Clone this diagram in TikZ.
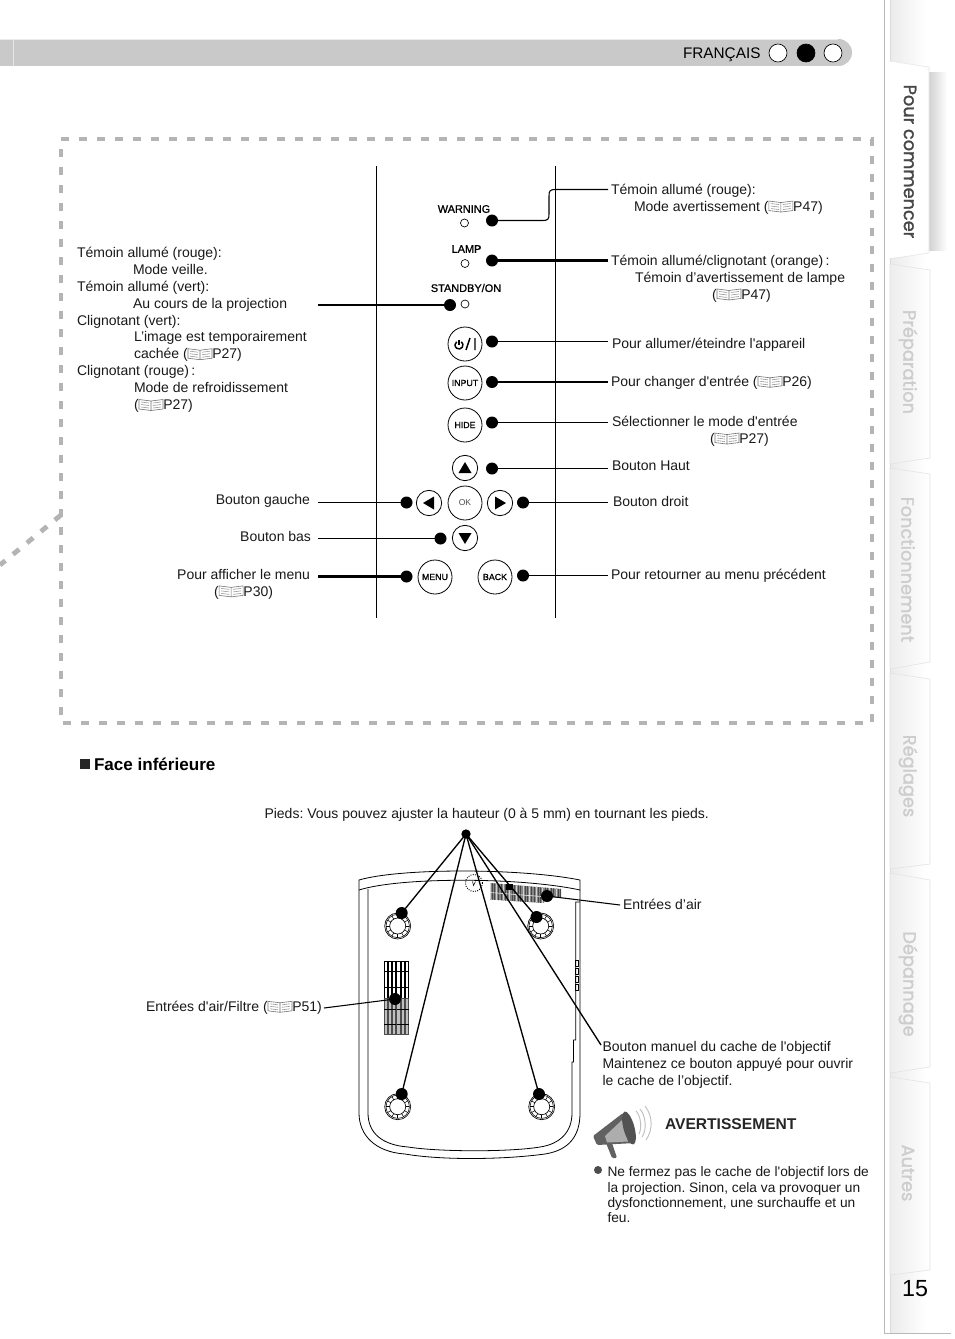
\documentclass[tikz,border=0pt]{standalone}
\usepackage{fontspec}
\setmainfont{Liberation Sans}[Ligatures=TeXOff]
\newfontfamily\fb[FakeBold=1]{Liberation Sans}
\newfontfamily\tabfont[FakeBold=1.6]{Poppins}
\usetikzlibrary{shadings,calc}
\definecolor{bargray}{HTML}{C9C9C9}
\definecolor{dashgray}{HTML}{B4B4B4}
\definecolor{tabgray}{HTML}{CDCDCD}
\definecolor{tabline}{HTML}{E2E2E2}
\newcommand{\bk}{\tikz[baseline=-8.4pt,x=0.75pt,y=-0.75pt,line width=0.45pt]{%
\draw[black!55] (0,1) -- (12,2.5) -- (24,1) -- (24,10.5) -- (12,12) -- (0,10.5) -- cycle (12,2.5) -- (12,12);
\draw[black!40] (2,3.5)--(10,4.5) (2,6)--(10,7) (2,8.5)--(10,9.5) (14,4.5)--(22,3.5) (14,7)--(22,6) (14,9.5)--(22,8.5);}}
\tikzset{
 x=0.75pt,y=-0.75pt,
 every node/.style={inner sep=0pt,outer sep=0pt},
 txt/.style={anchor=north west,align=left,yshift=-2.25pt,font=\fontsize{10.5pt}{12.7pt}\selectfont,text=black!90},
 dot/.style={circle,fill=black,minimum size=9pt},
 smalldot/.style={circle,fill=black,minimum size=7pt},
 btn/.style={circle,draw=black,line width=0.6pt,fill=white,minimum size=25.5pt,font=\fb\fontsize{6.6pt}{8pt}\selectfont},
 arrowbtn/.style={circle,draw=black,line width=0.6pt,fill=white,minimum size=19pt},
 led/.style={circle,draw=black,line width=0.5pt,fill=white,minimum size=6pt},
 ledlabel/.style={font=\fb\fontsize{8.2pt}{9pt}\selectfont},
 thinline/.style={line width=0.8pt},
 thickline/.style={line width=1.6pt},
 panel/.style={line width=0.8pt},
 dashborder/.style={draw=dashgray,line width=3.6pt,dash pattern=on 6pt off 7.5pt},
 sidetab/.style={left color=black!7,right color=white,draw=tabline,line width=0.4pt},
 tablabel/.style={rotate=-90,font=\tabfont\fontsize{13.3pt}{14pt}\selectfont,text=tabgray},
 body/.style={line width=0.6pt,draw=black},
 lang/.style={circle,draw=black,line width=0.5pt,fill=white,minimum size=13.5pt},
}
\begin{document}
\frenchspacing
\begin{tikzpicture}
\useasboundingbox (0,0) rectangle (954,1339);
\fill[white] (0,0) rectangle (954,1339);
% side strip
\shade[left color=black!8,right color=white] (890,0) rectangle (925,1333);
\draw[black!28,line width=0.7pt] (884,0) -- (884,1333) -- (951,1333);
\draw[black!14,line width=0.5pt] (890,0) -- (890,1333);
% tabs
\path[sidetab] (890,264) -- (930,270) -- (930,458) -- (890,464) -- cycle;
\path[sidetab] (890,468) -- (930,474) -- (930,662) -- (890,669) -- cycle;
\path[sidetab] (890,673) -- (930,679) -- (930,864) -- (890,869) -- cycle;
\path[sidetab] (890,873) -- (930,880) -- (930,1067) -- (890,1073) -- cycle;
\path[sidetab] (890,1077) -- (930,1083) -- (930,1270) -- (890,1275) -- cycle;
\shade[left color=black!18,right color=white] (929,72) rectangle (947,250);
\fill[white] (885,60) -- (929,67) -- (929,253) -- (885,259) -- cycle;
\draw[black!10,line width=0.4pt] (889,61) -- (929,67) -- (929,253) -- (889,259);
\node[tablabel,text=black!72] (t1) at (910,161.5) {Pour commencer};
\node[tablabel] (t2) at (908,362) {Préparation};
\node[tablabel] (t3) at (908,569.5) {Fonctionnement};
\node[tablabel] (t4) at (908,776) {Réglages};
\node[tablabel] (t5) at (908,984) {Dépannage};
\node[tablabel] (t6) at (908,1173) {Autres};
\node[anchor=center,font=\fontsize{17.5pt}{20pt}\selectfont] (pg) at (915,1289) {15};
% header
\fill[bargray] (0,39) rectangle (838.5,66);
\fill[bargray] (838.5,52.5) circle[radius=13.5];
\fill[black!10] (12.5,39) rectangle (14,66);
\draw[black!8,line width=0.5pt] (0,39) -- (838,39);
\node[anchor=west,font=\fontsize{11.5pt}{12pt}\selectfont] (fr) at (683,55) {FRANÇAIS};
\node[lang] (c1) at (778,53) {};
\node[lang,fill=black] (c2) at (806,53) {};
\node[lang] (c3) at (833,53) {};
% dashed frame
\draw[dashborder] (61,139) -- (872,139) -- (872,723) -- (61,723) -- cycle;
\draw[dashborder] (61,515) -- (0,565);
% panel rules
\coordinate (p1a) at (376.5,166); \coordinate (p1b) at (376.5,618);
\coordinate (p2a) at (555.5,166); \coordinate (p2b) at (555.5,618);
\draw[panel] (p1a) -- (p1b);
\draw[panel] (p2a) -- (p2b);
% leds
\node[ledlabel] (lw) at (464,209) {WARNING};
\node[ledlabel] (ll) at (466.5,249) {LAMP};
\node[ledlabel] (ls) at (466,288) {STANDBY/ON};
\node[led] (led1) at (464.5,223) {};
\node[led] (led2) at (465,263.5) {};
\node[led] (led3) at (465,304) {};
% buttons
\node[btn] (bp) at (465,344) {};
\draw[line width=1.1pt] ($(bp)+(-6,1)$) ++(-55:4) arc[start angle=-55,end angle=235,radius=4];
\draw[line width=1.1pt] ($(bp)+(-6,-4.5)$) -- ($(bp)+(-6,0.5)$);
\draw[line width=1.1pt] ($(bp)+(1,6)$) -- ($(bp)+(5,-6)$) ($(bp)+(10,-6)$) -- ($(bp)+(10,6)$);
\node[btn] (bi) at (465,383) {INPUT};
\node[btn] (bh) at (465,425) {HIDE};
\node[arrowbtn] (bu) at (465,468) {};
\node[arrowbtn] (bl) at (429,503) {};
\node[btn,font=\fontsize{6.4pt}{7pt}\selectfont,text=black!70] (bo) at (465,503) {OK};
\node[arrowbtn] (br) at (500,503) {};
\node[arrowbtn] (bd) at (465,538) {};
\node[btn] (bm) at (435,577) {MENU};
\node[btn] (bb) at (495,577) {BACK};
\fill ($(bu)+(0,-6)$) -- ($(bu)+(6.5,5)$) -- ($(bu)+(-6.5,5)$) -- cycle;
\fill ($(bd)+(0,6)$) -- ($(bd)+(6.5,-5)$) -- ($(bd)+(-6.5,-5)$) -- cycle;
\fill ($(bl)+(-6,0)$) -- ($(bl)+(5,-6.5)$) -- ($(bl)+(5,6.5)$) -- cycle;
\fill ($(br)+(6,0)$) -- ($(br)+(-5,-6.5)$) -- ($(br)+(-5,6.5)$) -- cycle;
% dots
\node[dot] (d1) at (492,220.5) {};
\node[dot] (d2) at (492,260.5) {};
\node[dot] (d3) at (450,305) {};
\node[dot] (d4) at (492,341.5) {};
\node[dot] (d5) at (492,382) {};
\node[dot] (d6) at (492,422.5) {};
\node[dot] (d7) at (492,468.5) {};
\node[dot] (d8) at (523,502.5) {};
\node[dot] (d9) at (406.5,502.5) {};
\node[dot] (d10) at (440.5,538.5) {};
\node[dot] (d11) at (406.5,576.5) {};
\node[dot] (d12) at (523,575.5) {};
% connector ends
\coordinate (e1) at (608,189.5);
\coordinate (e2) at (608,260.5);
\coordinate (e3) at (318,305);
\coordinate (e4) at (608,341.5);
\coordinate (e5) at (608,382);
\coordinate (e6) at (608,422.5);
\coordinate (e7) at (608,468.5);
\coordinate (e8) at (608,502.5);
\coordinate (e9) at (318,502.5);
\coordinate (e10) at (318,538.5);
\coordinate (e11) at (318,576.5);
\coordinate (e12) at (608,575.5);
\draw[thinline] (d1.center) -- (543,220.5) .. controls (548,220.5) and (549,219) .. (549,214) -- (549,196) .. controls (549,191) and (550,189.5) .. (555,189.5) -- (e1);
\draw[thickline] (d2) -- (e2);
\draw[thickline] (d3) -- (e3);
\draw[thinline] (d4) -- (e4);
\draw[thickline] (d5) -- (e5);
\draw[thinline] (d6) -- (e6);
\draw[thinline] (d7) -- (e7);
\draw[thinline] (d8) -- (e8);
\draw[thinline] (d9) -- (e9);
\draw[thinline] (d10) -- (e10);
\draw[thickline] (d11) -- (e11);
\draw[thinline] (d12) -- (e12);
% right labels
\node[txt] (r1) at (611,181) {Témoin allumé (rouge):\\\hspace*{17.25pt}Mode avertissement (\bk P47)};
\node[txt] (r2) at (611,252) {Témoin allumé/clignotant (orange)\,:\\\hspace*{18pt}Témoin d’avertissement de lampe\\\hspace*{75.75pt}(\bk P47)};
\node[txt] (r3) at (612,335) {Pour allumer/éteindre l'appareil};
\node[txt] (r4) at (611,373) {Pour changer d'entrée (\bk P26)};
\node[txt] (r5) at (612,413) {Sélectionner le mode d'entrée\\\hspace*{73.5pt}(\bk P27)};
\node[txt] (r6) at (612,457.5) {Bouton Haut};
\node[txt] (r7) at (613,493) {Bouton droit};
\node[txt] (r8) at (611,566) {Pour retourner au menu précédent};
% left labels
\node[txt] (l1) at (77,244) {Témoin allumé (rouge):\\\hspace*{42pt}Mode veille.\\Témoin allumé (vert):\\\hspace*{42pt}Au cours de la projection\\Clignotant (vert):\\\hspace*{42.75pt}L’image est temporairement\\\hspace*{42.75pt}cachée (\bk P27)\\Clignotant (rouge)\,:\\\hspace*{42.75pt}Mode de refroidissement\\\hspace*{42.75pt}(\bk P27)};
\node[txt,anchor=north east] (l2) at (310,491.5) {Bouton gauche};
\node[txt,anchor=north east] (l3) at (311,528) {Bouton bas};
\node[txt,anchor=north east,align=center] (l4) at (310,566) {Pour afficher le menu\\(\bk P30)};
% bottom section
\node[fill=black!85,minimum size=6.8pt] (sq) at (85,764) {};
\node[anchor=west,font=\bfseries\fontsize{12.8pt}{14pt}\selectfont] (fi) at (94,764) {Face inférieure};
\node[txt] (pd) at (264.5,805) {Pieds: Vous pouvez ajuster la hauteur (0 à 5 mm) en tournant les pieds.};
% projector body
\draw[body] (359,890) -- (359,880) .. controls (400,868) and (520,868) .. (580,880) -- (580,890);
\draw[body] (359,890) .. controls (400,877) and (520,877) .. (580,890);
\draw[body] (359,890) -- (359,1113) .. controls (359,1135) and (375,1152) .. (405,1154) .. controls (440,1160) and (500,1160) .. (545,1154) .. controls (570,1150) and (580,1135) .. (580,1113) -- (580,890);
\draw[body] (368,889) -- (368,1113) .. controls (368,1133) and (382,1145) .. (408,1147) .. controls (440,1152) and (510,1152) .. (540,1147) .. controls (560,1144) and (572,1132) .. (572,1113) -- (572,1062) -- (573.5,1062) -- (573.5,1040) -- (575.7,1040) -- (575.7,902) -- (580,902);
\foreach \yy in {960,968,976,984}{\draw[line width=0.4pt] (575.7,\yy) rectangle (578,\yy+6.5);}
% feet
\foreach \cx/\cy in {397.7/926,540.7/926,397.7/1106.7,541.7/1106.7}{
 \draw[line width=0.5pt] (\cx,\cy) circle[radius=13];
 \draw[line width=0.4pt] (\cx,\cy) circle[radius=11.7];
 \draw[line width=0.5pt] (\cx,\cy) circle[radius=8];
 \foreach \ang in {0,30,...,330}{\draw[line width=0.4pt] ($(\cx,\cy)+(\ang:8)$) -- ($(\cx,\cy)+(\ang:11.7)$);}
}
% dotted button
\draw[line width=0.7pt,densely dotted] (474,883) circle[radius=8.5];
\draw[line width=0.4pt] (472.5,881.5) -- (473.5,885.5) -- (475.5,881.5);
% top vent
\begin{scope}
\clip (490,883) -- (561,889) -- (561,898) -- (544,897) -- (544,903) -- (490,899.5) -- cycle;
\fill[black!48] (488,880) rectangle (563,905);
\foreach \i in {0,...,32}{
 \pgfmathsetmacro{\xx}{490+\i*2.2}
 \draw[black!72,line width=0.5pt] (\xx,880) -- (\xx,905);
}
\foreach \i in {0,...,10}{
 \pgfmathsetmacro{\xx}{490+\i*6.6}
 \draw[black!18,line width=0.5pt] (\xx,880) -- (\xx,905);
}
\draw[black!10,line width=0.5pt] (490,892.5) -- (561,898);
\end{scope}
\fill[black] (506,884) rectangle (513,890);
% left vent
\foreach \i in {0,...,5}{
 \pgfmathsetmacro{\xx}{384+\i*4.2}
 \draw[line width=0.4pt] (\xx,961) rectangle (\xx+3.2,998);
 \fill[black!25] (\xx,998) rectangle (\xx+3.4,1034);
 \draw[black!70,line width=0.4pt] (\xx,998) rectangle (\xx+3.2,1034);
 \foreach \yy in {971,987,1009,1024}{\draw[line width=0.5pt] (\xx,\yy) -- (\xx+4.2,\yy);}
}
% bottom callouts
\node[smalldot] (top) at (466,834) {};
\node[dot] (f1) at (401.7,913) {};
\node[dot] (f2) at (536.5,917) {};
\node[dot] (f3) at (401.7,1094) {};
\node[dot] (f4) at (539,1094) {};
\node[dot] (ai) at (547,896) {};
\node[dot] (fi2) at (395,999) {};
\coordinate (eb) at (601,1045);
\coordinate (ea) at (620,905);
\coordinate (ef) at (324,1008);
\draw[line width=1pt] (top.center) -- (f1.center);
\draw[line width=1pt] (top.center) -- (f2.center);
\draw[line width=1pt] (top.center) -- (f3.center);
\draw[line width=1pt] (top.center) -- (f4.center);
\draw[line width=1pt] (top.center) -- (eb);
\draw[thinline] (ai) -- (ea);
\draw[thinline] (fi2) -- (ef);
\node[txt] (a1) at (623,896) {Entrées d’air};
\node[txt] (a2) at (146,998) {Entrées d'air/Filtre (\bk P51)};
\node[txt] (a3) at (602.5,1038) {Bouton manuel du cache de l'objectif\\Maintenez ce bouton appuyé pour ouvrir\\le cache de l’objectif.};
% megaphone
\fill[black!62,rounded corners=1pt] (593,1136) -- (623,1113) -- (635,1143) -- (597,1145) -- cycle;
\fill[black!62,rounded corners=1pt] (606,1143) -- (612,1158) -- (617,1158) -- (612,1143) -- cycle;
\fill[black!32] (605,1136) -- (622,1120) -- (628,1141.5) -- (607,1142.5) -- cycle;
\fill[black!68,rotate around={15:(629,1128)}] (629,1128) ellipse[x radius=5.5,y radius=17];
\draw[black!25,line width=0.7pt] (636,1111) .. controls (641,1116) and (642,1128) .. (639,1134);
\draw[black!25,line width=0.7pt] (640,1109) .. controls (646,1116) and (647,1130) .. (642,1137);
\draw[black!25,line width=0.7pt] (645,1106) .. controls (653,1116) and (653,1130) .. (646,1140);
\node[anchor=west,font=\bfseries\fontsize{11.7pt}{13pt}\selectfont,text=black!85] (av) at (665,1124.5) {AVERTISSEMENT};
\node[circle,fill=black!70,minimum size=6pt] (bu2) at (598,1170) {};
\node[txt,font=\fontsize{10.3pt}{11.5pt}\selectfont] (ne) at (607.5,1164) {Ne fermez pas le cache de l'objectif lors de\\la projection. Sinon, cela va provoquer un\\dysfonctionnement, une surchauffe et un\\feu.};
\end{tikzpicture}
\end{document}
